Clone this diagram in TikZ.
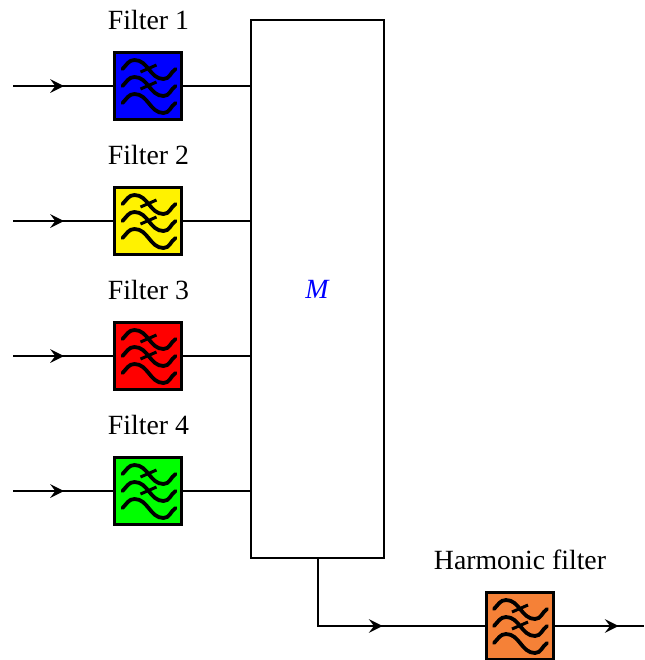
\documentclass[tikz,border=0pt]{standalone}
\usepackage{fontspec}
\setmainfont{Liberation Serif}
\usetikzlibrary{matrix,decorations.markings}
\definecolor{harmonicorange}{RGB}{245,129,55}
\tikzset{
    filterbox/.style={draw, line width=1.5pt, minimum size=33.5pt, inner sep=0pt, outer sep=0pt, anchor=center},
    filtertext/.style={font=\fontsize{13.9}{16}\selectfont, label distance=8pt},
    flow/.style={line width=1pt},
    flowarrow/.style={flow, postaction={decorate}, decoration={markings, mark=at position #1 with {\arrow[scale=1.5]{stealth}}}},
    waves/.pic={
        \foreach \shift in {17,0,-17} {
            \draw[line width=1.9pt, line cap=round, yshift=\shift*0.5pt]
                (-26,0) to[out=45,in=180] (-14,9) to[out=0,in=180] (15,-10) to[out=0,in=215] (27,0);
        }
        \foreach \shift in {17,0} {
            \draw[line width=1.5pt, yshift=\shift*0.5pt] (-8,-3) -- (8,4);
        }
    }
}

\begin{document}
\begin{tikzpicture}[x=0.5pt, y=0.5pt, font=\fontsize{13.9}{16}\selectfont]
    \useasboundingbox (0,0) rectangle (644,-660);
    \matrix (m) at (148.5,-86) [matrix of nodes, matrix anchor=m-1-1.center, row sep={67.5pt,between origins}]
    {
        |[filterbox, fill=blue, label={[filtertext]above:Filter 1}]| {} \\
        |[filterbox, fill=yellow, label={[filtertext]above:Filter 2}]| {} \\
        |[filterbox, fill=red, label={[filtertext]above:Filter 3}]| {} \\
        |[filterbox, fill=green, label={[filtertext]above:Filter 4}]| {} \\
    };
    \node[draw, line width=1pt, minimum width=66.5pt, minimum height=269pt, text=blue] (mux) at (317.5,-289) {\textit{M}};
    \node[filterbox, fill=harmonicorange, label={[filtertext]above:Harmonic filter}] (harm) at (520,-626) {};
    \coordinate (out) at (644,-626);
    \foreach \i in {1,...,4} {
        \coordinate (in\i) at (13,-86-135*\i+135);
        \draw[flowarrow=0.5] (in\i) -- (m-\i-1);
        \draw[flow] (m-\i-1) -- (m-\i-1 -| mux.west);
        \pic at (m-\i-1) {waves};
    }
    \draw[flowarrow=0.56] (mux.south) |- (harm);
    \draw[flowarrow=0.72] (harm) -- (out);
    \pic at (harm) {waves};
\end{tikzpicture}
\end{document}
